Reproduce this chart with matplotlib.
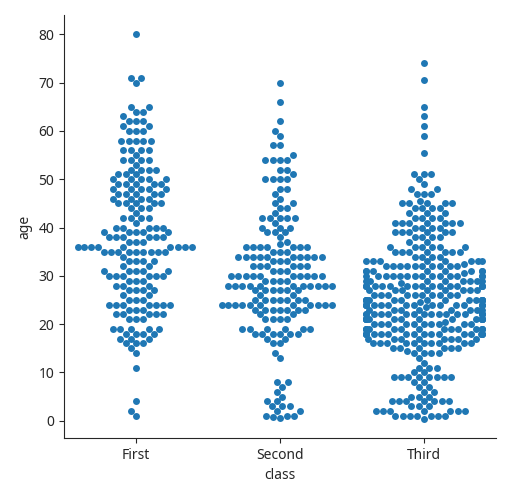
import matplotlib
matplotlib.use("Agg")
import matplotlib.pyplot as plt
import seaborn as sns
import numpy as np
import pandas as pd

first_ages = [80, 71, 70, 65, 64, 63, 62, 61, 60, 58, 56, 55, 54, 53, 52, 51, 50, 49, 48, 47,
              46, 45, 44, 43, 42, 41, 40, 39, 38, 37, 36, 35, 34, 33, 32, 31, 30, 29, 28, 27,
              26, 25, 24, 23, 22, 21, 19, 18, 17, 16, 15, 14, 11, 4, 2, 0.92]
first_counts = [1, 2, 1, 2, 2, 1, 3, 2, 3, 5, 4, 1, 4, 1, 4, 3, 5, 5, 5, 5,
                4, 5, 3, 1, 4, 1, 5, 5, 6, 3, 9, 9, 1, 4, 2, 5, 6, 3, 3, 4,
                2, 3, 7, 3, 5, 3, 5, 4, 3, 3, 1, 1, 1, 1, 1, 1]

second_ages = [70, 66, 62, 60, 59, 57, 55, 54, 52, 51, 50, 48, 47, 46, 45, 44, 43, 42, 41, 40,
               39, 38, 37, 36.5, 36, 35, 34, 33, 32, 31, 30, 29, 28, 27, 26, 25, 24, 23, 22, 21,
               19, 18, 17, 16, 14, 13, 8, 7, 6, 5, 4, 3, 2, 1, 0.83, 0.67]
second_counts = [1, 1, 1, 1, 1, 2, 1, 4, 2, 1, 4, 2, 1, 1, 2, 2, 1, 5, 1, 3,
                 3, 1, 1, 1, 7, 3, 10, 3, 6, 3, 10, 4, 11, 6, 2, 7, 11, 7, 2, 4,
                 6, 6, 2, 2, 1, 1, 2, 1, 1, 1, 2, 3, 2, 3, 1, 1]

third_ages = [74, 70.5, 65, 63, 61, 59, 55.5, 51, 50, 49, 48, 47, 45.5, 45, 44, 43, 42, 41, 40, 39,
              38, 37, 36, 35, 34, 33, 32.5, 32, 31, 30.5, 30, 29, 28.5, 28, 27, 26, 25, 24.5, 24, 23.5,
              23, 22, 21, 20.5, 20, 19, 18, 17, 16, 15, 14.5, 14, 13, 12, 11, 10, 9, 8, 7, 6,
              5, 4, 3, 2, 1, 0.42]
third_counts = [1, 1, 1, 1, 1, 1, 1, 3, 1, 1, 2, 3, 1, 5, 4, 3, 4, 7, 4, 6,
                4, 2, 6, 7, 4, 8, 1, 10, 8, 1, 14, 8, 1, 16, 8, 10, 16, 1, 16, 1,
                8, 16, 16, 1, 10, 14, 18, 8, 10, 6, 1, 4, 1, 1, 3, 2, 8, 2, 2, 2,
                3, 7, 3, 7, 7, 1]

class_names = ["First", "Second", "Third"]


def main():
    ages = np.concatenate([np.repeat(first_ages, first_counts),
                           np.repeat(second_ages, second_counts),
                           np.repeat(third_ages, third_counts)])
    classes = (["First"] * sum(first_counts) + ["Second"] * sum(second_counts)
               + ["Third"] * sum(third_counts))
    df = pd.DataFrame({"class": classes, "age": ages})

    sns.set_style("ticks")
    plt.rcParams["font.family"] = ["Noto Sans", "DejaVu Sans"]

    fig = plt.figure(figsize=(5.11, 5.0), dpi=100)
    ax = fig.add_axes([64 / 511, 62 / 500, 432 / 511, 423 / 500])
    sns.swarmplot(data=df, x="class", y="age", order=class_names, ax=ax, warn_thresh=1)
    sns.despine(ax=ax)
    ax.set_xlabel("class")
    ax.set_ylabel("age")
    fig.savefig("out.png", dpi=100)


if __name__ == "__main__":
    main()
